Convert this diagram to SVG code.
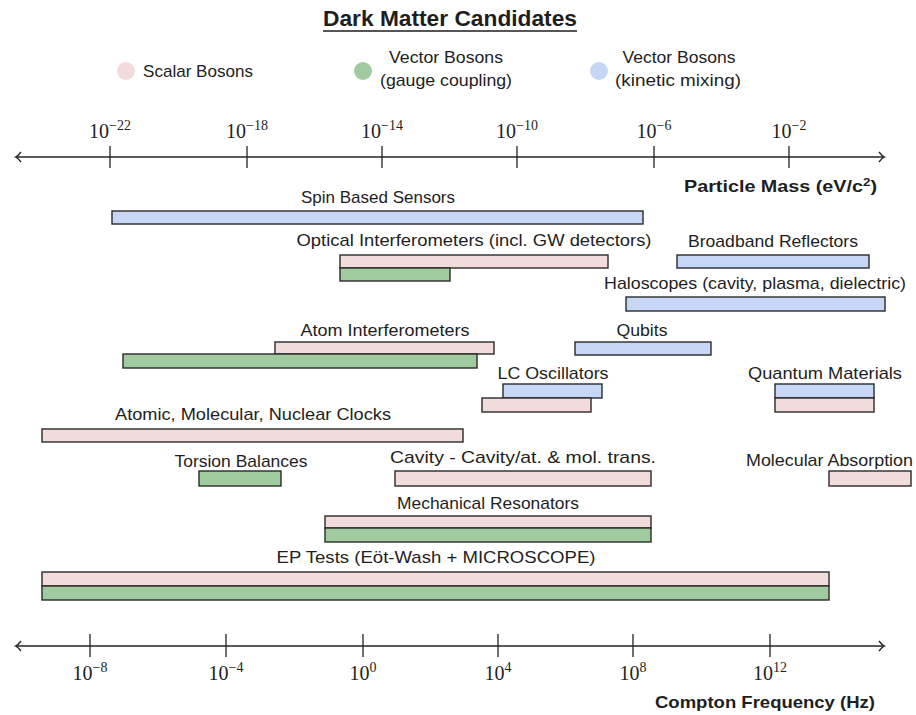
<svg xmlns="http://www.w3.org/2000/svg" width="916" height="715" viewBox="0 0 916 715">
<style>
  text { font-family: "Liberation Sans", Arial, sans-serif; fill: #1e1e1e; }
  .lbl { font-size: 17px; text-anchor: middle; }
  .bold { font-weight: bold; font-size: 17px; }
  .tick { font-family: "Liberation Serif", "Times New Roman", serif; font-size: 20px; text-anchor: middle; }
  .tsup { font-size: 14px; }
  .sup { font-size: 11.5px; }
  .axis { stroke: #222; stroke-width: 1.3; fill: none; }
  .bar { stroke: #2a2a2a; stroke-width: 1.4; }
  .scalar { fill: #f2dcdb; }
  .gauge { fill: #9fcb9f; }
  .kinetic { fill: #c8d6f6; }
</style>
<rect x="0" y="0" width="916" height="715" fill="#ffffff"/>

<g id="title">
  <text x="450" y="26" text-anchor="middle" style="font-weight:bold;font-size:22px" textLength="254" lengthAdjust="spacingAndGlyphs">Dark Matter Candidates</text>
  <line x1="323" y1="31" x2="577" y2="31" stroke="#1e1e1e" stroke-width="1.3"/>
</g>

<g id="legend">
  <g id="legend-scalar">
    <circle cx="126" cy="71" r="9" class="scalar"/>
    <text x="143" y="77" style="font-size:17px" textLength="110" lengthAdjust="spacingAndGlyphs">Scalar Bosons</text>
  </g>
  <g id="legend-gauge">
    <circle cx="363" cy="71" r="9" class="gauge"/>
    <text x="446" y="63" class="lbl" textLength="114" lengthAdjust="spacingAndGlyphs">Vector Bosons</text>
    <text x="446" y="86" class="lbl" textLength="132" lengthAdjust="spacingAndGlyphs">(gauge coupling)</text>
  </g>
  <g id="legend-kinetic">
    <circle cx="599" cy="71" r="9" class="kinetic"/>
    <text x="679" y="63" class="lbl" textLength="113" lengthAdjust="spacingAndGlyphs">Vector Bosons</text>
    <text x="678" y="86" class="lbl" textLength="126" lengthAdjust="spacingAndGlyphs">(kinetic mixing)</text>
  </g>
</g>

<g id="mass-axis">
  <line x1="16" y1="157" x2="884" y2="157" class="axis"/>
  <path d="M21,152 Q18,156 15.5,157 Q18,158 21,162" class="axis"/>
  <path d="M879,152 Q882,156 884.5,157 Q882,158 879,162" class="axis"/>
  <g class="axis">
    <line x1="110" y1="146" x2="110" y2="168"/>
    <line x1="247" y1="146" x2="247" y2="168"/>
    <line x1="382" y1="146" x2="382" y2="168"/>
    <line x1="517" y1="146" x2="517" y2="168"/>
    <line x1="654" y1="146" x2="654" y2="168"/>
    <line x1="789" y1="146" x2="789" y2="168"/>
  </g>
  <text class="tick" x="110" y="138">10<tspan class="tsup" dy="-8">−22</tspan></text>
  <text class="tick" x="247" y="138">10<tspan class="tsup" dy="-8">−18</tspan></text>
  <text class="tick" x="382" y="138">10<tspan class="tsup" dy="-8">−14</tspan></text>
  <text class="tick" x="517" y="138">10<tspan class="tsup" dy="-8">−10</tspan></text>
  <text class="tick" x="654" y="138">10<tspan class="tsup" dy="-8">−6</tspan></text>
  <text class="tick" x="789" y="138">10<tspan class="tsup" dy="-8">−2</tspan></text>
  <text x="684" y="192" class="bold" textLength="193" lengthAdjust="spacingAndGlyphs">Particle Mass (eV/c<tspan class="sup" dy="-6">2</tspan><tspan dy="6">)</tspan></text>
</g>

<g id="freq-axis">
  <line x1="16" y1="646" x2="884" y2="646" class="axis"/>
  <path d="M21,641 Q18,645 15.5,646 Q18,647 21,651" class="axis"/>
  <path d="M879,641 Q882,645 884.5,646 Q882,647 879,651" class="axis"/>
  <g class="axis">
    <line x1="90" y1="634" x2="90" y2="657"/>
    <line x1="226" y1="634" x2="226" y2="657"/>
    <line x1="363" y1="634" x2="363" y2="657"/>
    <line x1="498" y1="634" x2="498" y2="657"/>
    <line x1="633" y1="634" x2="633" y2="657"/>
    <line x1="770" y1="634" x2="770" y2="657"/>
  </g>
  <text class="tick" x="90" y="680">10<tspan class="tsup" dy="-8">−8</tspan></text>
  <text class="tick" x="226" y="680">10<tspan class="tsup" dy="-8">−4</tspan></text>
  <text class="tick" x="363" y="680">10<tspan class="tsup" dy="-8">0</tspan></text>
  <text class="tick" x="498" y="680">10<tspan class="tsup" dy="-8">4</tspan></text>
  <text class="tick" x="633" y="680">10<tspan class="tsup" dy="-8">8</tspan></text>
  <text class="tick" x="770" y="680">10<tspan class="tsup" dy="-8">12</tspan></text>
  <text x="655" y="708" class="bold" textLength="220" lengthAdjust="spacingAndGlyphs">Compton Frequency (Hz)</text>
</g>

<g id="spin-based-sensors">
  <text class="lbl" x="378" y="203" textLength="154" lengthAdjust="spacingAndGlyphs">Spin Based Sensors</text>
  <rect class="bar kinetic" x="112" y="211" width="531" height="13"/>
</g>

<g id="optical-interferometers">
  <text class="lbl" x="474" y="246" textLength="355" lengthAdjust="spacingAndGlyphs">Optical Interferometers (incl. GW detectors)</text>
  <rect class="bar scalar" x="340" y="255" width="268" height="13"/>
  <rect class="bar gauge" x="340" y="268" width="110" height="13"/>
</g>

<g id="broadband-reflectors">
  <text class="lbl" x="773" y="247" textLength="170" lengthAdjust="spacingAndGlyphs">Broadband Reflectors</text>
  <rect class="bar kinetic" x="677" y="255" width="192" height="13"/>
</g>

<g id="haloscopes">
  <text class="lbl" x="755" y="289" textLength="302" lengthAdjust="spacingAndGlyphs">Haloscopes (cavity, plasma, dielectric)</text>
  <rect class="bar kinetic" x="626" y="297" width="259" height="14"/>
</g>

<g id="atom-interferometers">
  <text class="lbl" x="385" y="336" textLength="169" lengthAdjust="spacingAndGlyphs">Atom Interferometers</text>
  <rect class="bar scalar" x="275" y="342" width="219" height="12"/>
  <rect class="bar gauge" x="123" y="354" width="354" height="14"/>
</g>

<g id="qubits">
  <text class="lbl" x="642" y="336" textLength="51" lengthAdjust="spacingAndGlyphs">Qubits</text>
  <rect class="bar kinetic" x="575" y="342" width="136" height="13"/>
</g>

<g id="lc-oscillators">
  <text class="lbl" x="553" y="379" textLength="111" lengthAdjust="spacingAndGlyphs">LC Oscillators</text>
  <rect class="bar kinetic" x="503" y="384" width="99" height="14"/>
  <rect class="bar scalar" x="482" y="398" width="109" height="14"/>
</g>

<g id="quantum-materials">
  <text class="lbl" x="825" y="379" textLength="154" lengthAdjust="spacingAndGlyphs">Quantum Materials</text>
  <rect class="bar kinetic" x="775" y="384" width="99" height="14"/>
  <rect class="bar scalar" x="775" y="398" width="99" height="14"/>
</g>

<g id="clocks">
  <text class="lbl" x="253" y="420" textLength="276" lengthAdjust="spacingAndGlyphs">Atomic, Molecular, Nuclear Clocks</text>
  <rect class="bar scalar" x="42" y="429" width="421" height="13"/>
</g>

<g id="torsion-balances">
  <text class="lbl" x="241" y="467" textLength="133" lengthAdjust="spacingAndGlyphs">Torsion Balances</text>
  <rect class="bar gauge" x="199" y="471" width="82" height="15"/>
</g>

<g id="cavity">
  <text class="lbl" x="523" y="463" textLength="266" lengthAdjust="spacingAndGlyphs">Cavity - Cavity/at. &amp; mol. trans.</text>
  <rect class="bar scalar" x="395" y="471" width="256" height="15"/>
</g>

<g id="molecular-absorption">
  <text class="lbl" x="829.5" y="466" textLength="167" lengthAdjust="spacingAndGlyphs">Molecular Absorption</text>
  <rect class="bar scalar" x="829" y="471" width="82" height="15"/>
</g>

<g id="mechanical-resonators">
  <text class="lbl" x="488" y="509" textLength="182" lengthAdjust="spacingAndGlyphs">Mechanical Resonators</text>
  <rect class="bar scalar" x="325" y="516" width="326" height="12"/>
  <rect class="bar gauge" x="325" y="528" width="326" height="14"/>
</g>

<g id="ep-tests">
  <text class="lbl" x="436" y="563" textLength="319" lengthAdjust="spacingAndGlyphs">EP Tests (Eöt-Wash + MICROSCOPE)</text>
  <rect class="bar scalar" x="42" y="572" width="787" height="14"/>
  <rect class="bar gauge" x="42" y="586" width="787" height="14"/>
</g>

<g id="connectors"></g>
</svg>
